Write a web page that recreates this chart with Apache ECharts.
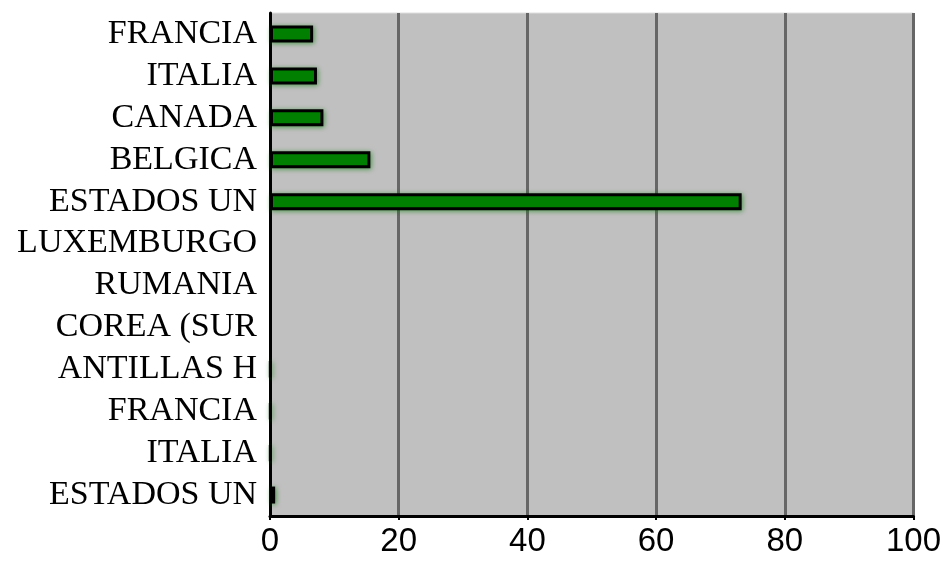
<!DOCTYPE html>
<html>
<head>
<meta charset="utf-8">
<script src="https://cdn.jsdelivr.net/npm/echarts@6/dist/echarts.min.js"></script>
<style>
    html, body { margin: 0; padding: 0; background: #fff; }
    #chart { width: 944px; height: 562px; }
</style>
</head>
<body>
<div id="chart"></div>
<script>
// categorias (de arriba hacia abajo)
var categories = ['FRANCIA', 'ITALIA', 'CANADA', 'BELGICA', 'ESTADOS UN', 'LUXEMBURGO',
    'RUMANIA', 'COREA (SUR', 'ANTILLAS H', 'FRANCIA ', 'ITALIA ', 'ESTADOS UN '];
var values = [6.7, 7.3, 8.3, 15.6, 73.3, 0, 0, 0, 0.1, 0.1, 0.1, 0.8];
var xTicks = [0, 20, 40, 60, 80, 100];

var myChart = echarts.init(document.getElementById('chart'));
myChart.setOption({
    animation: false,
    grid: {
        left: 270,
        top: 13,
        right: 25,
        bottom: 46,
        show: true,
        backgroundColor: '#c0c0c0',
        borderColor: '#dedede',
        borderWidth: 1
    },
    xAxis: {
        type: 'value',
        min: xTicks[0],
        max: xTicks[xTicks.length - 1],
        interval: xTicks[1] - xTicks[0],
        axisLine: { show: true, lineStyle: { color: '#000', width: 3 } },
        axisTick: { show: true, length: 4, lineStyle: { color: '#000', width: 2 } },
        splitLine: { show: true, lineStyle: { color: '#666', width: 3 } },
        axisLabel: {
            color: '#000',
            fontFamily: 'Liberation Sans',
            fontSize: 33,
            margin: 9
        }
    },
    yAxis: {
        type: 'category',
        inverse: true,
        data: categories,
        axisLine: { show: true, lineStyle: { color: '#000', width: 3 } },
        axisTick: { show: false },
        splitLine: { show: false },
        axisLabel: {
            color: '#000',
            fontFamily: 'Liberation Serif',
            fontSize: 34,
            margin: 13,
            interval: 0,
            formatter: function (v) { return v.trim(); }
        }
    },
    series: [{
        type: 'bar',
        // los ceros no se dibujan
        data: values.map(function (v) { return v === 0 ? '-' : v; }),
        barWidth: 17,
        itemStyle: {
            color: '#008000',
            borderColor: '#000',
            borderWidth: 3,
            shadowColor: 'rgba(0, 128, 0, 0.5)',
            shadowBlur: 5,
            shadowOffsetX: 1,
            shadowOffsetY: 1
        }
    }]
});
</script>
</body>
</html>
